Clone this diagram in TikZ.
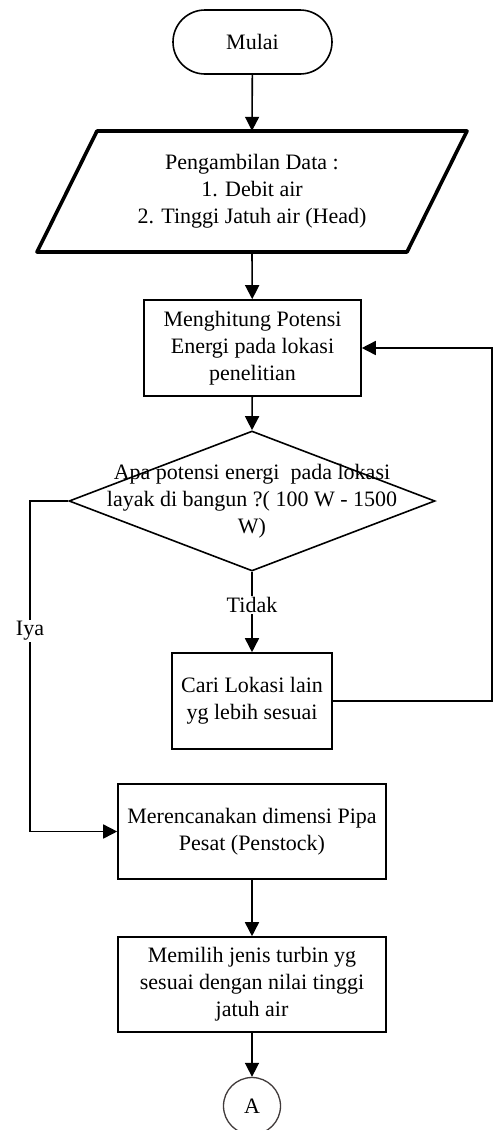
\documentclass[tikz,border=0pt]{standalone}
\usepackage{fontspec}
\setmainfont{Liberation Serif}
\usetikzlibrary{arrows.meta,shapes.geometric,calc}
\begin{document}
\begin{tikzpicture}[x=1pt,y=-1pt,
  every node/.style={font=\fontsize{22}{27}\selectfont, align=center},
  procbox/.style={draw, line width=1.6pt, inner sep=0pt},
  conn/.style={line width=1.6pt, -{Triangle[length=14pt,width=14pt]}},
  plain/.style={line width=1.6pt},
  lbl/.style={fill=white, inner sep=1pt}
]
\definecolor{circgray}{RGB}{64,58,58}
\useasboundingbox (0,0) rectangle (493,1130);

\node[procbox, rounded corners=32pt, minimum width=159pt, minimum height=64pt] (start) at (252.5,42) {Mulai};

\node[inner sep=0pt, minimum width=310pt, minimum height=121pt] (in) at (252,191.5)
  {Pengambilan Data :\\1. Debit air\\2. Tinggi Jatuh air (Head)};
\draw[line width=3.6pt, line join=round]
  ($(in.center)+(-155,-60.5)$) -- ($(in.center)+(215,-60.5)$) --
  ($(in.center)+(155,60.5)$) -- ($(in.center)+(-215,60.5)$) -- cycle;

\node[procbox, minimum width=217pt, minimum height=96pt] (b1) at (252.5,348)
  {Menghitung Potensi\\Energi pada lokasi\\penelitian};

\node[draw, diamond, line width=1.6pt, inner sep=0pt, minimum width=366pt, minimum height=140pt,
  label={[align=center]center:{Apa potensi energi~~pada lokasi\\layak di bangun ?( 100 W - 1500\\W)}}] (dec) at (252,501) {};

\node[procbox, minimum width=160pt, minimum height=96pt] (b2) at (252,701)
  {Cari Lokasi lain\\yg lebih sesuai};

\node[procbox, minimum width=268pt, minimum height=95pt] (b3) at (252,831.5)
  {Merencanakan dimensi Pipa\\Pesat (Penstock)};

\node[procbox, minimum width=268pt, minimum height=95pt] (b4) at (252,984.5)
  {Memilih jenis turbin yg\\sesuai dengan nilai tinggi\\jatuh air};

\node[draw=circgray, circle, line width=1.3pt, minimum size=57pt, inner sep=0pt] (A) at (252,1106) {A};

\coordinate (iyaL) at (30,501);
\coordinate (loopR) at (492,701);

\draw[conn] (start) -- (in.north);
\draw[conn] (in.south) -- (b1);
\draw[conn] (b1) -- (dec.north);
\draw[conn] (dec.south) -- (b2);
\draw[conn] (b3) -- (b4);
\draw[conn] (b4) -- (A);
\draw[conn] (dec.west) -- (iyaL) |- (b3.west);
\draw[conn] (b2.east) -- (loopR) |- (b1.east);

\node[lbl] (tidak) at (252,605) {Tidak};
\node[lbl] (iya) at (30,631) {Iya};
\end{tikzpicture}
\end{document}
